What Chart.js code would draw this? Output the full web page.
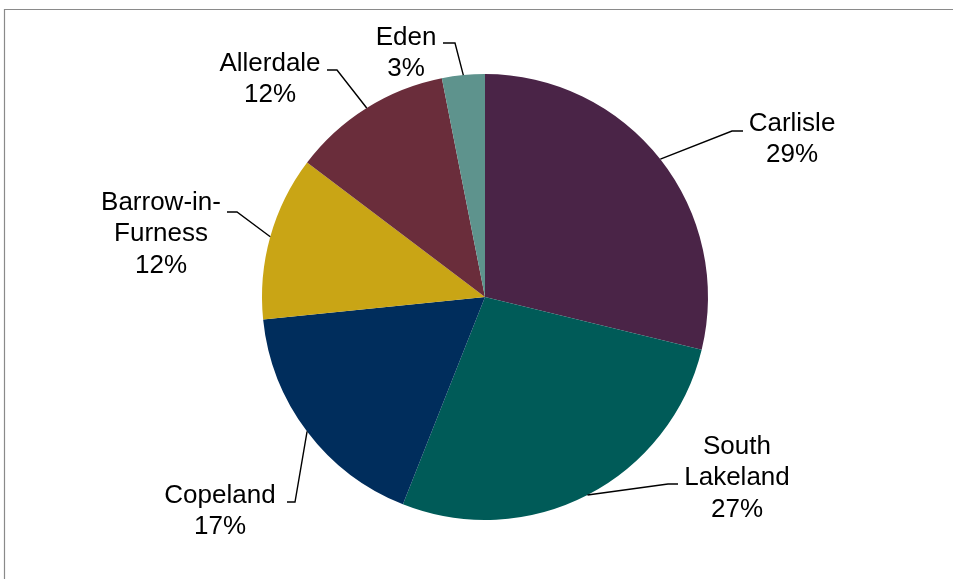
<!DOCTYPE html>
<html>
<head>
<meta charset="utf-8">
<script src="https://cdn.jsdelivr.net/npm/chart.js@4.4.0/dist/chart.umd.min.js"></script>
<style>
html,body{margin:0;padding:0;background:#fff;}
#wrap{position:absolute;left:0;top:0;width:953px;height:579px;}
</style>
</head>
<body>
<div id="wrap"><canvas id="c" width="953" height="579"></canvas></div>
<script>
const categories = ["Carlisle", "South Lakeland", "Copeland", "Barrow-in-Furness", "Allerdale", "Eden"];
const shares = [28.8, 27.2, 17.4, 11.9, 11.6, 3.1];
const sliceColors = ["#4A2447", "#005B58", "#002D5C", "#C9A515", "#6A2D3B", "#5E938D"];

// label placement (style only): text centre x, first line y, elbow point, line end
const labelPlacement = [
  {x: 792, y: 123.5, elbow: [732, 131], end: [743, 131]},
  {x: 737, y: 446.5, elbow: [668, 484], end: [678, 484]},
  {x: 220, y: 495.5, elbow: [295, 502], end: [287, 502]},
  {x: 161, y: 202.5, elbow: [237, 212], end: [227, 212]},
  {x: 270, y: 63.5,  elbow: [337, 70],  end: [327, 70]},
  {x: 406, y: 37.5,  elbow: [455, 43],  end: [443, 43]}
];

function wrapText(ctx, text, maxW) {
  const tokens = text.match(/[^ \-]+[ \-]?/g) || [text];
  const lines = [];
  let cur = "";
  for (const t of tokens) {
    const test = cur + t;
    if (cur && ctx.measureText(test.trim()).width > maxW) {
      lines.push(cur.trim());
      cur = t;
    } else cur = test;
  }
  if (cur) lines.push(cur.trim());
  return lines;
}

const frame = {
  id: 'frame',
  beforeDraw(chart) {
    const ctx = chart.ctx;
    ctx.save();
    ctx.fillStyle = '#fff';
    ctx.fillRect(0, 0, chart.width, chart.height);
    ctx.strokeStyle = '#8a8a8a';
    ctx.lineWidth = 1.2;
    ctx.beginPath();
    ctx.moveTo(953, 9.5);
    ctx.lineTo(4.5, 9.5);
    ctx.lineTo(4.5, 579);
    ctx.stroke();
    ctx.restore();
  }
};

const pieLabels = {
  id: 'pieLabels',
  afterDatasetsDraw(chart) {
    const ctx = chart.ctx;
    const meta = chart.getDatasetMeta(0);
    const data = chart.data.datasets[0].data;
    const total = data.reduce((a, b) => a + b, 0);
    ctx.save();
    ctx.font = '26px "Liberation Sans", Arial, sans-serif';
    ctx.fillStyle = '#000';
    ctx.textAlign = 'center';
    ctx.textBaseline = 'middle';
    meta.data.forEach((arc, i) => {
      const p = arc.getProps(['x', 'y', 'startAngle', 'endAngle', 'outerRadius'], true);
      const mid = (p.startAngle + p.endAngle) / 2;
      const ax = p.x + Math.cos(mid) * p.outerRadius;
      const ay = p.y + Math.sin(mid) * p.outerRadius;
      const pl = labelPlacement[i];
      ctx.strokeStyle = '#000';
      ctx.lineWidth = 1.4;
      ctx.beginPath();
      ctx.moveTo(ax, ay);
      ctx.lineTo(pl.elbow[0], pl.elbow[1]);
      ctx.lineTo(pl.end[0], pl.end[1]);
      ctx.stroke();
      const lines = wrapText(ctx, chart.data.labels[i], 135);
      lines.push(Math.round(data[i] / total * 100) + '%');
      lines.forEach((ln, k) => ctx.fillText(ln, pl.x, pl.y + k * 31.8));
    });
    ctx.restore();
  }
};

new Chart(document.getElementById('c'), {
  type: 'pie',
  data: {
    labels: categories,
    datasets: [{
      data: shares,
      backgroundColor: sliceColors,
      borderWidth: 0
    }]
  },
  options: {
    responsive: false,
    animation: false,
    layout: {padding: {top: 74, bottom: 59, left: 262, right: 245}},
    plugins: {legend: {display: false}, tooltip: {enabled: false}}
  },
  plugins: [frame, pieLabels]
});
</script>
</body>
</html>
